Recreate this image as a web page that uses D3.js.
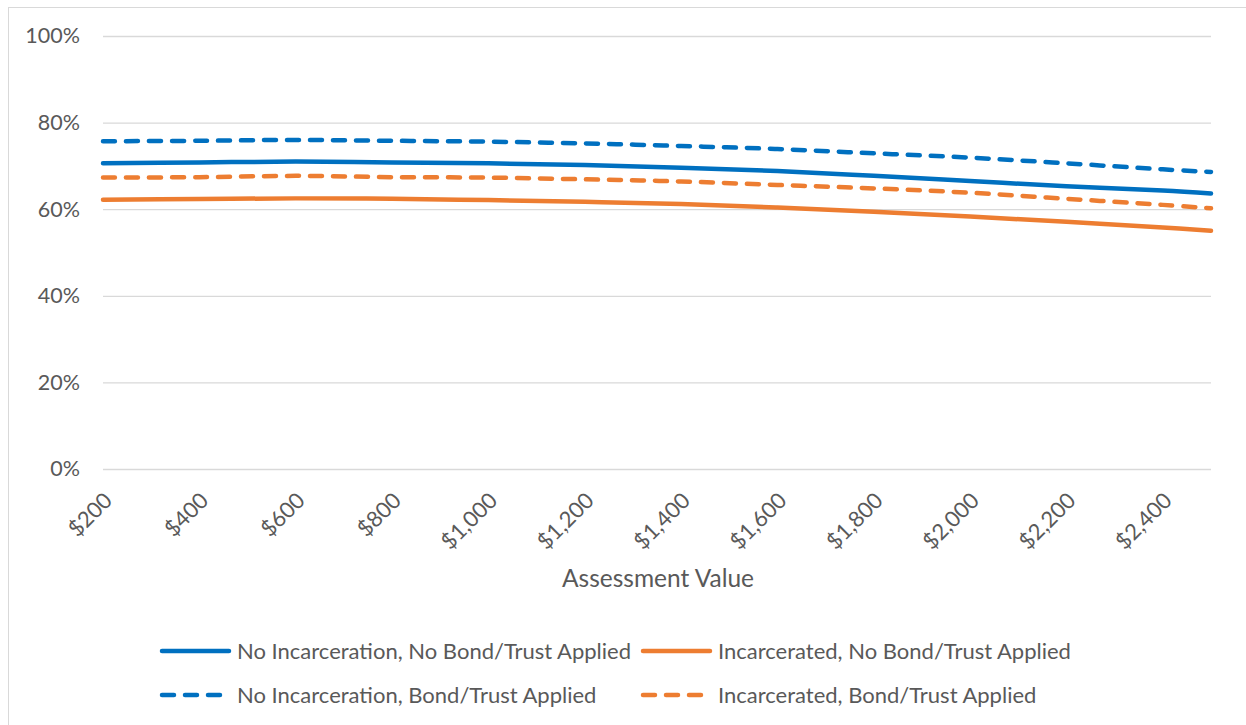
<!DOCTYPE html>
<html>
<head>
<meta charset="utf-8">
<script src="https://cdn.jsdelivr.net/npm/d3@7"></script>
<style>
  body { margin: 0; background: #fff; }
  svg { font-family: Lato, "Open Sans", sans-serif; }
</style>
</head>
<body>
<div id="chart"></div>
<script>
const assessment = [200, 400, 600, 800, 1000, 1200, 1400, 1600, 1800, 2000, 2200, 2400, 2500];
const noIncNoBond = [70.6, 70.8, 71.0, 70.8, 70.6, 70.2, 69.6, 68.8, 67.7, 66.5, 65.3, 64.3, 63.6];
const incNoBond   = [62.2, 62.35, 62.5, 62.4, 62.1, 61.7, 61.2, 60.4, 59.4, 58.3, 57.1, 55.8, 55.0];
const noIncBond   = [75.7, 75.8, 76.0, 75.8, 75.6, 75.2, 74.6, 73.9, 72.9, 71.9, 70.6, 69.2, 68.6];
const incBond     = [67.3, 67.4, 67.7, 67.4, 67.3, 66.9, 66.4, 65.6, 64.8, 63.8, 62.4, 61.0, 60.2];
const xTicks = [200, 400, 600, 800, 1000, 1200, 1400, 1600, 1800, 2000, 2200, 2400];
const yTicks = [0, 20, 40, 60, 80, 100];

const series = [
    { name: 'No Incarceration, No Bond/Trust Applied', values: noIncNoBond, color: '#0070c0', dashed: false },
    { name: 'Incarcerated, No Bond/Trust Applied', values: incNoBond, color: '#ed7d31', dashed: false },
    { name: 'No Incarceration, Bond/Trust Applied', values: noIncBond, color: '#0070c0', dashed: true },
    { name: 'Incarcerated, Bond/Trust Applied', values: incBond, color: '#ed7d31', dashed: true }
];

const W = 1246, H = 725;
const margin = { top: 36, right: 35, bottom: 256, left: 103 };
const width = W - margin.left - margin.right;
const height = H - margin.top - margin.bottom;

const svg = d3.select('#chart')
    .append('svg')
    .attr('width', W)
    .attr('height', H);

// outer frame
svg.append('rect')
    .attr('x', 8.5).attr('y', 7.5)
    .attr('width', W).attr('height', H)
    .attr('fill', 'none')
    .attr('stroke', '#d9d9d9');

const g = svg.append('g')
    .attr('transform', `translate(${margin.left},${margin.top})`);

const x = d3.scaleLinear().domain([200, 2500]).range([0, width]);
const y = d3.scaleLinear().domain([0, 100]).range([height, 0]);

// gridlines + y labels
const yAxis = g.append('g')
    .call(d3.axisLeft(y).tickValues(yTicks).tickSize(-width).tickFormat(d => d + '%').tickPadding(23));
yAxis.select('.domain').remove();
yAxis.selectAll('.tick line').attr('stroke', '#d9d9d9').attr('stroke-width', 1.3);
yAxis.selectAll('.tick text')
    .attr('fill', '#595959')
    .style('font-size', '21.5px')
    .style('font-family', 'Lato, sans-serif');

// x labels
const xAxis = g.append('g')
    .attr('transform', `translate(0,${height})`)
    .call(d3.axisBottom(x).tickValues(xTicks).tickSize(0).tickFormat(d => '$' + d3.format(',')(d)));
xAxis.select('.domain').remove();
xAxis.selectAll('.tick text')
    .attr('fill', '#595959')
    .style('font-size', '22px')
    .style('font-family', 'Lato, sans-serif')
    .attr('text-anchor', 'end')
    .attr('dy', 0)
    .attr('y', 0)
    .attr('transform', 'translate(10,33) rotate(-45)');

// x title
g.append('text')
    .attr('x', (x(200) + x(2500)) / 2 + 1)
    .attr('y', height + 118)
    .attr('text-anchor', 'middle')
    .attr('fill', '#595959')
    .style('font-size', '24.5px')
    .text('Assessment Value');

const line = d3.line()
    .x((d, i) => x(assessment[i]))
    .y(d => y(d))
    .curve(d3.curveCatmullRom);

series.forEach(s => {
    g.append('path')
        .datum(s.values)
        .attr('d', line)
        .attr('fill', 'none')
        .attr('stroke', s.color)
        .attr('stroke-width', 4.5)
        .attr('stroke-linecap', 'round')
        .attr('stroke-dasharray', s.dashed ? '12,11' : null);
});

// legend
const legendPos = [[160, 651], [641, 651], [160, 695], [641, 695]];
series.forEach((s, i) => {
    const [lx, ly] = legendPos[i];
    const item = svg.append('g').attr('transform', `translate(${lx},${ly})`);
    item.append('line')
        .attr('x1', 2).attr('x2', 69)
        .attr('stroke', s.color)
        .attr('stroke-width', 4.5)
        .attr('stroke-linecap', 'round')
        .attr('stroke-dasharray', s.dashed ? '12,11' : null);
    item.append('text')
        .attr('x', 77)
        .attr('dy', '0.35em')
        .attr('fill', '#595959')
        .style('font-size', '22px')
        .text(s.name);
});
</script>
</body>
</html>
